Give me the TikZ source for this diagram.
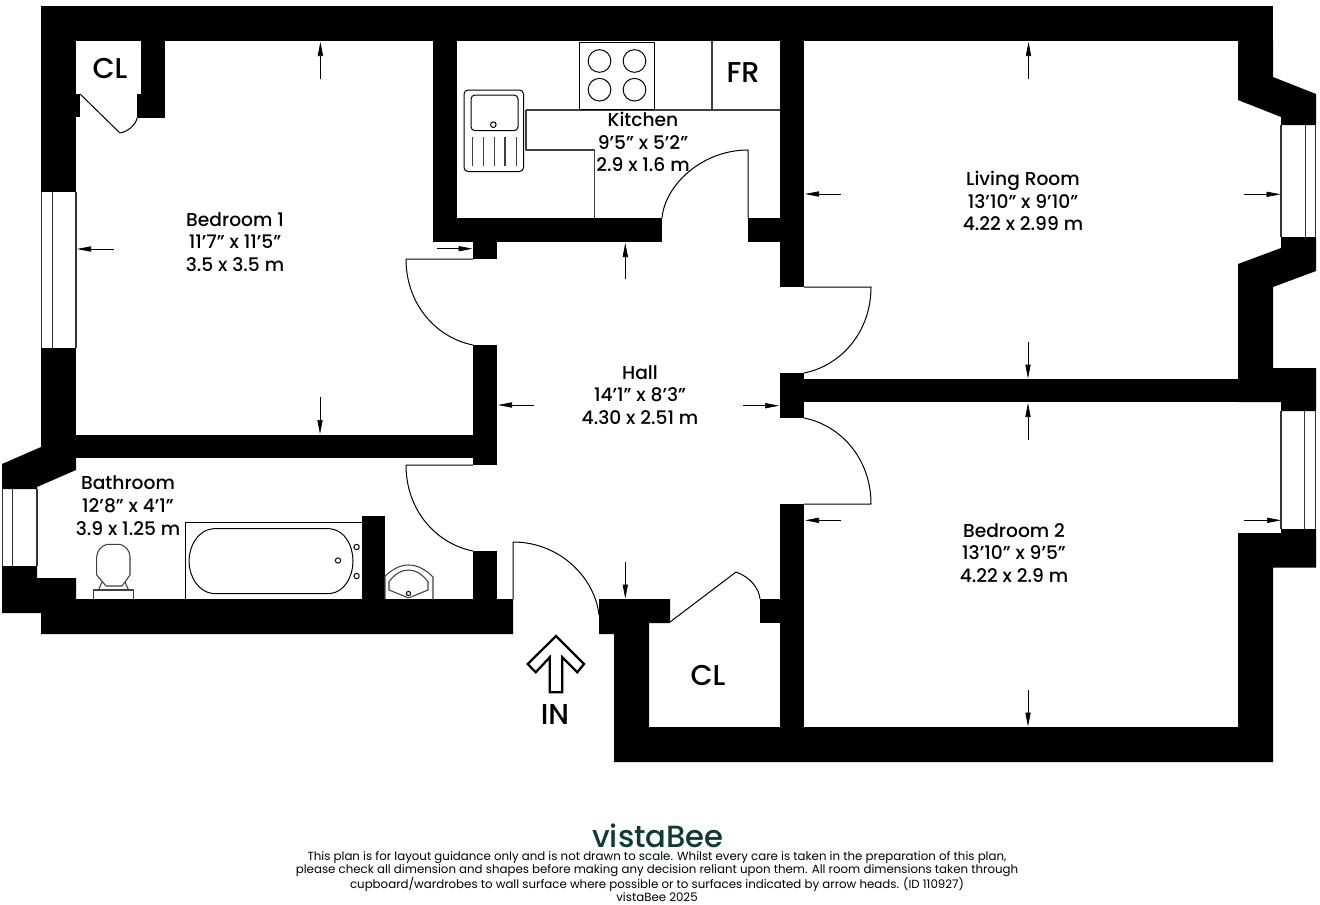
\documentclass[tikz,border=0pt]{standalone}
\usepackage{fontspec}
\setmainfont{Poppins}
\newfontfamily\medfont{Poppins Medium}
\usetikzlibrary{arrows.meta}
\definecolor{bee}{HTML}{0E3B34}
\tikzset{
  wall/.style={fill=black,draw=none},
  thin line/.style={draw=black,line width=0.75pt,line join=round},
  fitting/.style={draw=black!75,line width=0.8pt,line join=round},
  glass/.style={draw=black!80,line width=0.8pt},
  dimline/.style={draw=black,line width=0.5pt,-{Triangle[length=10.5pt,width=3.9pt]}},
  room/.style={align=center,inner sep=0pt,font=\medfont\fontsize{14}{17}\selectfont},
  tag/.style={inner sep=0pt,font=\medfont\fontsize{21.5}{24}\selectfont},
  small/.style={align=center,inner sep=0pt,font=\fontsize{8.85}{9.6}\selectfont}
}
\newcommand{\dimarrow}[2]{\draw[dimline] #1 -- #2;}
\begin{document}
\begin{tikzpicture}[x=0.75pt,y=-0.75pt]
\useasboundingbox (0,0) rectangle (1320,904);
% walls
\fill[wall] (41,6) rectangle (1273,41);
\fill[wall] (41,41) rectangle (76,192);
\fill[wall] (41,94) rectangle (80,117);
\fill[wall] (141,41) rectangle (165,118);
\fill[wall] (137,94) rectangle (165,118);
\fill[wall] (41,348) rectangle (76,458);
\fill[wall] (76,434.5) rectangle (497,458);
\fill[wall] (473,345) rectangle (497,465);
\fill[wall] (41,447) -- (2,464) -- (2,489) -- (37,489) -- (37,487) -- (76,470) -- (76,458) -- (41,458) -- cycle;
\fill[wall] (37,566) -- (37,578) -- (76,578) -- (76,599) -- (513,599) -- (513,634) -- (41,634) -- (41,613) -- (2,613) -- (2,566) -- cycle;
\fill[wall] (362,516) rectangle (385,599);
\fill[wall] (473,551) rectangle (497,599);
\fill[wall] (433,41) rectangle (457,242);
\fill[wall] (433,218) rectangle (662,242);
\fill[wall] (473,242) rectangle (497,259);
\fill[wall] (748,218) rectangle (780,242);
\fill[wall] (780,41) rectangle (804,287);
\fill[wall] (780,373) rectangle (804,418);
\fill[wall] (804,379) rectangle (1238,402);
\fill[wall] (1238,41) -- (1273,41) -- (1273,77) -- (1316,94) -- (1316,125) -- (1281,125) -- (1281,117) -- (1238,100) -- cycle;
\fill[wall] (1281,237) -- (1316,237) -- (1316,271) -- (1273,287) -- (1273,368) -- (1316,368) -- (1316,411) -- (1281,411) -- (1281,402) -- (1238,402) -- (1238,264) -- (1281,248) -- cycle;
\fill[wall] (1281,529) -- (1316,529) -- (1316,567.6) -- (1273,567.6) -- (1273,762) -- (614,762) -- (614,634) -- (599,634) -- (599,599) -- (670,599) -- (670,623) -- (649,623) -- (649,727) -- (1238,727) -- (1238,533) -- (1281,533) -- cycle;
\fill[wall] (780,504) rectangle (804,727);
\fill[wall] (760,599) rectangle (780,623);
% windows
\draw[glass] (41.7,192) -- (41.7,348) (52.3,192) -- (52.3,348) (76,192) -- (76,348);
\draw[glass] (2.5,489) -- (2.5,566) (12.5,489) -- (12.5,566) (37,489) -- (37,566);
\draw[glass] (1281,125) -- (1281,237) (1305.5,125) -- (1305.5,237) (1315.5,125) -- (1315.5,237);
\draw[glass] (1281,411) -- (1281,529) (1304.5,411) -- (1304.5,529) (1315.5,411) -- (1315.5,529);
% doors
\draw[thin line] (80,94) -- (120,133) .. controls (127,132) and (136,125) .. (137,118);
\draw[thin line] (473,259) -- (406,259) .. controls (406,305) and (437,338) .. (473,345);
\draw[thin line] (473,465) -- (406,465) .. controls (406,511) and (437,544) .. (473,551);
\draw[thin line] (748,218) -- (748,150) .. controls (702,150) and (665,185) .. (662,218);
\draw[thin line] (804,287) -- (871,287) .. controls (871,333) and (840,366) .. (804,373);
\draw[thin line] (804,504) -- (871,504) .. controls (871,458) and (840,425) .. (804,418);
\draw[thin line] (513,599) -- (513,542) .. controls (560,542) and (595,578) .. (599,615);
\draw[thin line] (670,622) -- (736,572) .. controls (750,577) and (759,588) .. (760,599);
% kitchen
\draw[fitting] (712,41) -- (712,110) (526,110) -- (780,110);
\draw[fitting] (526,110) -- (526,150) -- (594.3,150) -- (594.3,218);
\draw[thin line,fill=white] (579.5,42) rectangle (654.5,109);
\foreach \cx/\cy in {599.5/61,634.5/61,599.5/89.7,634.5/89.7}
  \draw[thin line] (\cx,\cy) circle[radius=8.5pt];
\draw[thin line,fill=white,rounded corners=3pt] (464,90) rectangle (523.5,171.5);
\draw[thin line,rounded corners=3pt] (471,95) rectangle (518,130.7);
\draw[thin line] (493.3,124.7) circle[radius=2.1pt];
\foreach \lx in {472.3,483.3,494.3,505,516.3}
  \draw[fitting] (\lx,137) -- (\lx,166);
% bath
\draw[thin line] (185,599) -- (185,522.3) -- (362,522.3);
\draw[thin line] (213,528.7) -- (330,528.7) .. controls (345,530) and (353,546) .. (353,561) .. controls (353,576) and (345,592) .. (330,593.6) -- (213,593.6) .. controls (198,592) and (189,576) .. (189,561) .. controls (189,546) and (198,530) .. (213,528.7) -- cycle;
\foreach \cx/\cy in {338/560.5,356.6/547,356.6/576}
  \draw[thin line] (\cx,\cy) circle[radius=2pt];
% toilet
\draw[fitting] (93.5,599) -- (93.5,590) -- (133.5,590) -- (133.5,599);
\draw[fitting] (98.5,590) -- (102,582) (128.5,590) -- (125,582);
\draw[fitting,fill=white] (107,544.3) -- (120,544.3) .. controls (126,546) and (130,551) .. (130,557) -- (130,575) -- (122,586) -- (106,586) -- (96.7,575) -- (96.7,557) .. controls (97,551) and (101,546) .. (107,544.3) -- cycle;
% basin
\draw[fitting] (385,599) -- (385,576) .. controls (393,569) and (400,565) .. (408.5,565) .. controls (418,565) and (426,570) .. (433,577) -- (433,599);
\draw[fitting] (389,590) -- (389,581.7) .. controls (395,574) and (401,570) .. (408.5,570) .. controls (416,570) and (422,574) .. (428,581.7) -- (428,590) -- (409,597.7) -- (408,597.7) -- cycle;
\draw[thin line] (408.5,593.5) circle[radius=1.6pt];
% dimension arrows
\dimarrow{(320.4,79)}{(320.4,42)}
\dimarrow{(114,249)}{(77,249)}
\dimarrow{(320,397)}{(320,434)}
\dimarrow{(436.5,248.7)}{(472.5,248.7)}
\dimarrow{(625.3,279)}{(625.3,243)}
\dimarrow{(841,194)}{(805,194)}
\dimarrow{(1244,194.3)}{(1280.5,194.3)}
\dimarrow{(1028.5,79)}{(1028.5,42)}
\dimarrow{(1028,342)}{(1028,378.5)}
\dimarrow{(1028,440)}{(1028,403)}
\dimarrow{(841,520.3)}{(805,520.3)}
\dimarrow{(1244,520.3)}{(1281,520.3)}
\dimarrow{(1028,690)}{(1028,726.5)}
\dimarrow{(534.3,405)}{(498,405)}
\dimarrow{(743.3,405.7)}{(779,405.7)}
\dimarrow{(625.3,562)}{(625.3,598.5)}
% entry arrow
\draw[black,line width=1.7pt,miter limit=4] (556,636) -- (584,664) -- (577.3,672.3) -- (562.3,657.3) -- (562.3,692.3) -- (549.7,692.3) -- (549.7,657.3) -- (535.7,672.3) -- (527.7,664) -- cycle;
% labels
\node[tag] (cl1) at (110,68) {CL};
\node[tag] (fr) at (743,73) {FR};
\node[tag] (cl2) at (708,675) {CL};
\node[tag] (in) at (555,715) {IN};
\node[room] (bed1) at (235,242) {Bedroom 1\\11’7” x 11’5”\\3.5 x 3.5 m};
\node[room] (kit) at (643,142) {Kitchen\\9’5” x 5’2”\\2.9 x 1.6 m};
\node[room] (liv) at (1023,201) {Living Room\\13’10” x 9’10”\\4.22 x 2.99 m};
\node[room] (hall) at (640,395) {Hall\\14’1” x 8’3”\\4.30 x 2.51 m};
\node[room] (bath) at (128,505.5) {Bathroom\\12’8” x 4’1”\\3.9 x 1.25 m};
\node[room] (bed2) at (1014,553) {Bedroom 2\\13’10” x 9’5”\\4.22 x 2.9 m};
% footer
\node[inner sep=0pt,text=bee,font=\medfont\fontsize{23}{28}\selectfont] (logo) at (658,835.5) {vistaBee};
\node[small] (note) at (657,876.5) {This plan is for layout guidance only and is not drawn to scale. Whilst every care is taken in the preparation of this plan,\\please check all dimension and shapes before making any decision reliant upon them. All room dimensions taken through\\cupboard/wardrobes to wall surface where possible or to surfaces indicated by arrow heads. (ID 110927)\\vistaBee 2025};
\end{tikzpicture}
\end{document}
